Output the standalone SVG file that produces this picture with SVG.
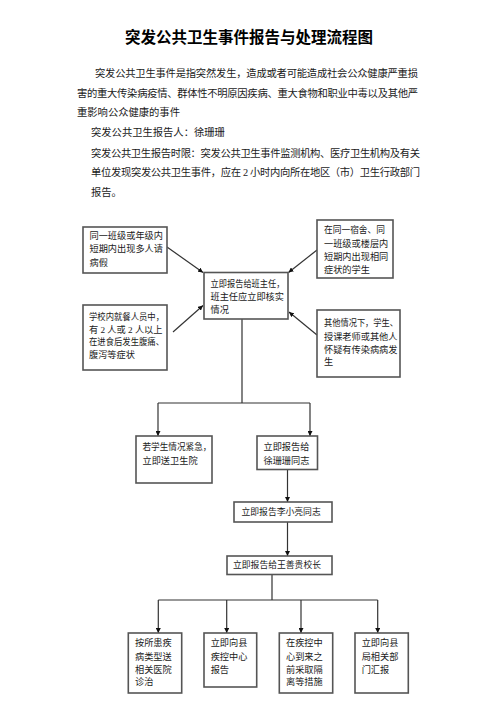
<svg xmlns="http://www.w3.org/2000/svg" width="500" height="708" viewBox="0 0 500 708">
<style>
text{font-family:"Liberation Serif","Noto Sans CJK SC",serif;fill:#1a1a1a}
.title{font-family:"Noto Sans CJK SC",sans-serif;font-size:15.5px;font-weight:bold;fill:#000}
.body{font-size:10.3px}
.bx rect{fill:#fff;stroke:#555;stroke-width:1.6}
.bx text{font-size:9.2px}
.sm text{font-size:8.8px}
.con path{fill:none;stroke:#333;stroke-width:1.2}
</style>
<defs>
<marker id="ah" viewBox="0 0 10 10" refX="10" refY="5" markerWidth="5" markerHeight="5" orient="auto" markerUnits="userSpaceOnUse">
<path d="M0,0 L10,5 L0,10 z" fill="#111"/>
</marker>
</defs>
<rect width="500" height="708" fill="#fff"/>
<text class="title" x="249" y="43" text-anchor="middle">突发公共卫生事件报告与处理流程图</text>
<g class="body">
<text class="body" x="95" y="77" textLength="323" lengthAdjust="spacing">突发公共卫生事件是指突然发生，造成或者可能造成社会公众健康严重损</text>
<text class="body" x="77" y="97" textLength="341" lengthAdjust="spacing">害的重大传染病疫情、群体性不明原因疾病、重大食物和职业中毒以及其他严</text>
<text class="body" x="77" y="116">重影响公众健康的事件</text>
<text class="body" x="91" y="136">突发公共卫生报告人：徐珊珊</text>
<text class="body" x="91" y="157" textLength="329" lengthAdjust="spacing">突发公共卫生报告时限：突发公共卫生事件监测机构、医疗卫生机构及有关</text>
<text class="body" x="91" y="176" textLength="329" lengthAdjust="spacing">单位发现突发公共卫生事件，应在 2 小时内向所在地区（市）卫生行政部门</text>
<text class="body" x="91" y="196">报告。</text>
</g>
<g class="con">
<path d="M167,247 L203,272.5" marker-end="url(#ah)"/>
<path d="M317,250 L288.5,272.5" marker-end="url(#ah)"/>
<path d="M173,332 L203,305.5" marker-end="url(#ah)"/>
<path d="M317,335 L289,312" marker-end="url(#ah)"/>
<path d="M242,319 L242,403 M158,403 L310,403"/>
<path d="M158,403 L158,436" marker-end="url(#ah)"/>
<path d="M310,403 L310,436" marker-end="url(#ah)"/>
<path d="M287.5,469.5 L287.5,502" marker-end="url(#ah)"/>
<path d="M287.5,522 L287.5,556" marker-end="url(#ah)"/>
<path d="M272,574.5 L272,600 M158.3,600 L377.7,600"/>
<path d="M158.3,600 L158.3,633" marker-end="url(#ah)"/>
<path d="M226.7,600 L226.7,633" marker-end="url(#ah)"/>
<path d="M301,600 L301,633" marker-end="url(#ah)"/>
<path d="M377.7,600 L377.7,633" marker-end="url(#ah)"/>
</g>
<g id="n-tl" class="bx"><rect x="83" y="227" width="84" height="46"/>
<text x="89.5" y="238.5">同一班级或年级内</text><text x="89.5" y="252">短期内出现多人请</text><text x="89.5" y="266">病假</text></g>
<g id="n-tr" class="bx"><rect x="317" y="220" width="76" height="58"/>
<text x="324" y="233" textLength="61" lengthAdjust="spacingAndGlyphs">在同一宿舍、同</text><text x="324" y="246.5">一班级或楼层内</text><text x="324" y="260">短期内出现相同</text><text x="324" y="273">症状的学生</text></g>
<g id="n-c" class="bx"><rect x="204" y="272.5" width="84" height="46.5"/>
<text x="210.5" y="287" textLength="74" lengthAdjust="spacingAndGlyphs">立即报告给班主任，</text><text x="210.5" y="299.5">班主任应立即核实</text><text x="210.5" y="312.5">情况</text></g>
<g id="n-bl" class="bx"><rect x="83" y="305" width="84" height="65"/>
<text x="89" y="320" textLength="75" lengthAdjust="spacingAndGlyphs">学校内就餐人员中，</text><text x="89" y="333">有 2 人或 2 人以上</text><text x="89" y="345" textLength="75" lengthAdjust="spacingAndGlyphs">在进食后发生腹痛、</text><text x="89" y="357.5">腹泻等症状</text></g>
<g id="n-br" class="bx"><rect x="317" y="310" width="83" height="67"/>
<text x="324" y="326" textLength="74" lengthAdjust="spacingAndGlyphs">其他情况下，学生、</text><text x="324" y="340">授课老师或其他人</text><text x="324" y="353">怀疑有传染病病发</text><text x="324" y="365">生</text></g>
<g id="n-hosp" class="bx"><rect x="136" y="436" width="76" height="47"/>
<text x="142.5" y="450" textLength="69" lengthAdjust="spacingAndGlyphs">若学生情况紧急，</text><text x="142.5" y="463.5">立即送卫生院</text></g>
<g id="n-xu" class="bx"><rect x="257" y="436" width="60.5" height="33.5"/>
<text x="263.5" y="449.5">立即报告给</text><text x="263.5" y="463.5">徐珊珊同志</text></g>
<g id="n-li" class="bx sm"><rect x="234" y="502" width="98" height="20"/>
<text x="241.5" y="515">立即报告李小亮同志</text></g>
<g id="n-wang" class="bx sm"><rect x="227" y="556" width="105" height="18.5"/>
<text x="233" y="567.5">立即报告给王善贵校长</text></g>
<g id="n-b1" class="bx"><rect x="128.3" y="633" width="53.4" height="60"/>
<text x="135" y="646">按所患疾</text><text x="135" y="659.5">病类型送</text><text x="135" y="673">相关医院</text><text x="135" y="685">诊治</text></g>
<g id="n-b2" class="bx"><rect x="204" y="633" width="52.7" height="54"/>
<text x="210.7" y="646">立即向县</text><text x="210.7" y="659.5">疾控中心</text><text x="210.7" y="673">报告</text></g>
<g id="n-b3" class="bx"><rect x="279.3" y="633" width="53.4" height="60"/>
<text x="286" y="646">在疾控中</text><text x="286" y="659.5">心到来之</text><text x="286" y="673">前采取隔</text><text x="286" y="685">离等措施</text></g>
<g id="n-b4" class="bx"><rect x="355" y="633" width="53.3" height="60"/>
<text x="361.7" y="646">立即向县</text><text x="361.7" y="659.5">局相关部</text><text x="361.7" y="673">门汇报</text></g>
</svg>
